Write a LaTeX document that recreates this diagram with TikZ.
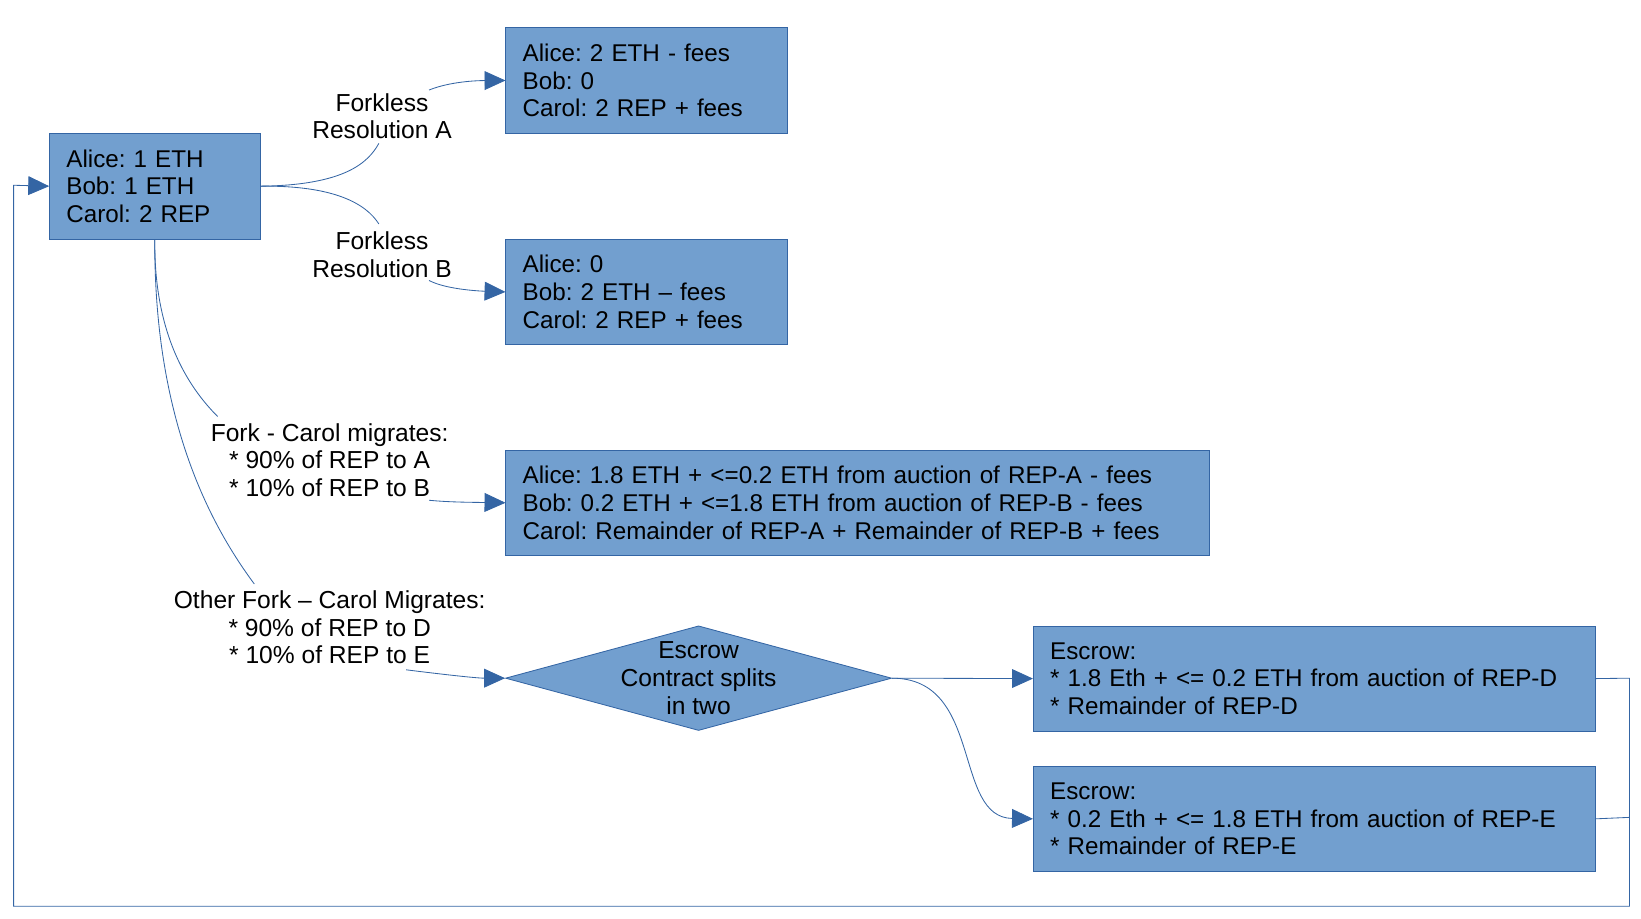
\documentclass[tikz,border=0pt]{standalone}
\usepackage{fontspec}
\setmainfont{Liberation Sans}
\usetikzlibrary{shapes.geometric,arrows.meta}
\definecolor{boxfill}{HTML}{729FCF}
\definecolor{boxline}{HTML}{3465A4}
\frenchspacing
\begin{document}
\begin{tikzpicture}[x=1pt,y=-1pt,
 every node/.style={font=\fontsize{23.5}{26.5}\selectfont},
 box/.style={draw=boxline, fill=boxfill, line width=0.8pt, inner xsep=16pt, inner ysep=0pt, align=left, anchor=north west, font=\fontsize{23.15}{26.5}\selectfont},
 lbl/.style={align=center, inner sep=0pt},
 conn/.style={draw=boxline, line width=0.8pt},
 arr/.style={conn, -{Triangle[length=20pt,width=18pt]}}]
\useasboundingbox (0,0) rectangle (1568,878);

% boxes
\node[box, text width=169pt, minimum height=101pt] (start) at (47,127) {Alice: 1 ETH\\Bob: 1 ETH\\Carol: 2 REP};
\node[box, text width=237pt, minimum height=101pt] (ra) at (483,26) {Alice: 2 ETH - fees\\Bob: 0\\Carol: 2 REP + fees};
\node[box, text width=237pt, minimum height=101pt] (rb) at (483,228) {Alice: 0\\Bob: 2 ETH -- fees\\Carol: 2 REP + fees};
\node[box, text width=640pt, minimum height=100pt] (fk) at (483,430) {Alice: 1.8 ETH + <=0.2 ETH from auction of REP-A - fees\\Bob: 0.2 ETH + <=1.8 ETH from auction of REP-B - fees\\Carol: Remainder of REP-A + Remainder of REP-B + fees};
\node[box, text width=505pt, minimum height=100pt] (ed) at (987,598) {Escrow:\\{}* 1.8 Eth + <= 0.2 ETH from auction of REP-D\\{}* Remainder of REP-D};
\node[box, text width=505pt, minimum height=100pt] (ee) at (987,732) {Escrow:\\{}* 0.2 Eth + <= 1.8 ETH from auction of REP-E\\{}* Remainder of REP-E};
\node[diamond, draw=boxline, fill=boxfill, line width=0.8pt, inner sep=0pt, minimum width=369pt, minimum height=100pt] (esc) at (667.5,648) {};
\node[lbl] (esct) at (esc.center) {Escrow\\Contract splits\\in two};

% labels
\node[lbl] (la) at (365,111) {Forkless\\Resolution A};
\node[lbl] (lb) at (365,243.5) {Forkless\\Resolution B};
\node[lbl] (lf) at (315,439.5) {Fork - Carol migrates:\\{}* 90\% of REP to A\\{}* 10\% of REP to B};
\node[lbl] (lo) at (315,599.5) {Other Fork -- Carol Migrates:\\{}* 90\% of REP to D\\{}* 10\% of REP to E};

\coordinate (a1) at (362,137);
\coordinate (a2) at (410,86);
\coordinate (b1) at (362,214);
\coordinate (b2) at (410,268);
\coordinate (f1) at (208,398);
\coordinate (f2) at (410,478);
\coordinate (o1) at (243,558);
\coordinate (o2) at (388,640);

% connectors
\draw[conn] (start.east) .. controls (330,177) and (352,155) .. (a1);
\draw[arr] (a2) .. controls (430,78) and (455,77) .. (ra.west);
\draw[conn] (start.east) .. controls (320,177) and (350,195) .. (b1);
\draw[arr] (b2) .. controls (425,276) and (455,278) .. (rb.west);
\draw[conn] (start.south) .. controls (147,320) and (180,370) .. (f1);
\draw[arr] (f2) .. controls (430,480) and (455,480) .. (fk.west);
\draw[conn] (start.south) .. controls (147,400) and (200,500) .. (o1);
\draw[arr] (o2) .. controls (420,644) and (455,648) .. (esc.west);
\draw[arr] (esc.east) -- (ed.west);
\draw[arr] (esc.east) .. controls (940,648) and (910,781) .. (ee.west);

% return loop
\coordinate (r1) at (1557,648);
\coordinate (r2) at (1557,781);
\coordinate (r3) at (1557,866);
\coordinate (r4) at (13,866);
\coordinate (r5) at (13,177);
\draw[conn] (ee.east) -- (r2);
\draw[arr] (ed.east) -- (r1) -- (r3) -- (r4) -- (r5) -- (start.west);
\end{tikzpicture}
\end{document}
